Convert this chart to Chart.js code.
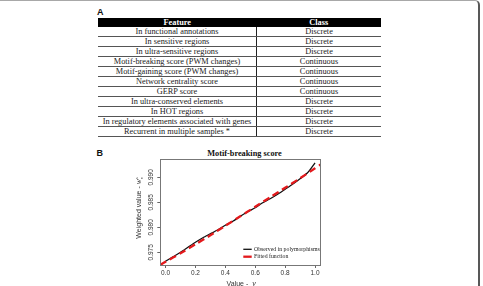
<!DOCTYPE html>
<html>
<head>
<meta charset="utf-8">
<script src="https://cdn.jsdelivr.net/npm/chart.js@4.4.1/dist/chart.umd.min.js"></script>
<style>
  html, body { margin: 0; padding: 0; background: #fff; overflow: hidden; }
  body { width: 483px; height: 286px; position: relative; font-family: "Liberation Serif", "Times New Roman", serif; }
  .frame { position: absolute; left: -20px; top: 0; width: 500px; height: 320px; box-sizing: border-box;
           border-top: 1px solid #a8a8a8; border-right: 2px solid #585858; border-top-right-radius: 5px; }
  .panel { position: absolute; font: bold 9px "Liberation Sans", Arial, sans-serif; line-height: 9px; color: #111; }
  #features { position: absolute; left: 98px; top: 18px; width: 283px; border-collapse: collapse; table-layout: fixed;
              font-size: 8.3px; color: #222; }
  #features th { background: #000; color: #fff; height: 9px; line-height: 9px; padding: 0; font-weight: bold; }
  #features td { height: 9px; line-height: 9px; padding: 0; text-align: center; border-bottom: 1px solid #555; white-space: nowrap; }
  #features td:first-child { border-right: 1px solid #222; }
  #title { position: absolute; left: 194.5px; top: 148.5px; width: 100px; text-align: center; white-space: nowrap;
           font: bold 8.3px "Liberation Serif", serif; line-height: 10px; color: #111; }
  #chart { position: absolute; left: 0; top: 140px; }
</style>
</head>
<body>
<div class="frame"></div>
<div class="panel" style="left:97px;top:8px">A</div>
<table id="features">
  <colgroup><col style="width:158.5px"><col style="width:124.5px"></colgroup>
  <thead><tr><th>Feature</th><th>Class</th></tr></thead>
  <tbody id="rows"></tbody>
</table>
<div class="panel" style="left:96.5px;top:148.5px">B</div>
<div id="title">Motif-breaking score</div>
<canvas id="chart" width="483" height="146"></canvas>
<script>
// Table A
const features = [
  'In functional annotations',
  'In sensitive regions',
  'In ultra-sensitive regions',
  'Motif-breaking score (PWM changes)',
  'Motif-gaining score (PWM changes)',
  'Network centrality score',
  'GERP score',
  'In ultra-conserved elements',
  'In HOT regions',
  'In regulatory elements associated with genes',
  'Recurrent in multiple samples *'
];
const featureClasses = [
  'Discrete', 'Discrete', 'Discrete', 'Continuous', 'Continuous', 'Continuous',
  'Continuous', 'Discrete', 'Discrete', 'Discrete', 'Discrete'
];

// Chart B
const vObserved = [0, 0.05, 0.1, 0.15, 0.2, 0.25, 0.3, 0.35, 0.4, 0.45, 0.5,
                   0.55, 0.6, 0.65, 0.7, 0.75, 0.8, 0.85, 0.9, 0.95, 1.0];
const wObserved = [0.9732, 0.9741, 0.9750, 0.9760, 0.9770, 0.9779, 0.9787, 0.9795, 0.9804, 0.9812, 0.9822,
                   0.9831, 0.9839, 0.9849, 0.9857, 0.9866, 0.9876, 0.9886, 0.9897, 0.9909, 0.9929];
const vFitted = [-0.035, 0, 0.1, 0.2, 0.3, 0.4, 0.5, 0.6, 0.7, 0.8, 0.9, 1.0, 1.04];
const wFitted = [0.97248, 0.9731, 0.9748, 0.9766, 0.9784, 0.9803, 0.9822, 0.9841, 0.9860, 0.9879, 0.9898, 0.9918, 0.9926];
const xTicks = [0, 0.2, 0.4, 0.6, 0.8, 1.0];
const yTicks = [0.975, 0.980, 0.985, 0.990];

const rows = document.getElementById('rows');
features.forEach((f, i) => {
  const tr = document.createElement('tr');
  tr.innerHTML = `<td>${f}</td><td>${featureClasses[i]}</td>`;
  rows.appendChild(tr);
});

const sans = '"Liberation Sans", Arial, sans-serif';
const serif = '"Liberation Serif", "Times New Roman", serif';
const ink = '#333';

// box, rotated y labels, axis titles and legend
const decorations = {
  id: 'decorations',
  afterDraw(chart) {
    const { ctx, chartArea: a } = chart;
    const ys = chart.scales.y;
    ctx.save();
    ctx.strokeStyle = '#777';
    ctx.lineWidth = 1;
    ctx.strokeRect(Math.round(a.left) + 0.5, Math.round(a.top) + 0.5,
                   Math.round(a.right - a.left) - 1, Math.round(a.bottom - a.top));

    // y tick labels, parallel to the axis
    ctx.fillStyle = ink;
    ctx.font = `6.5px ${sans}`;
    ctx.textAlign = 'center';
    ctx.textBaseline = 'middle';
    ys.ticks.forEach(t => {
      ctx.save();
      ctx.translate(a.left - 8.8, ys.getPixelForValue(t.value));
      ctx.rotate(-Math.PI / 2);
      ctx.fillText(t.value.toFixed(3), 0, 0);
      ctx.restore();
    });

    // y title: Weighted value - w_v^s
    ctx.save();
    ctx.translate(a.left - 21.5, 67.5);
    ctx.rotate(-Math.PI / 2);
    ctx.textAlign = 'left';
    ctx.textBaseline = 'alphabetic';
    const main = 'Weighted value - ';
    ctx.font = `7px ${sans}`;
    const wMain = ctx.measureText(main).width;
    ctx.font = `italic 7.5px ${serif}`;
    const wW = ctx.measureText('w').width;
    const total = wMain + wW + 3;
    let x0 = -total / 2;
    ctx.font = `7px ${sans}`;
    ctx.fillText(main, x0, 2.5);
    ctx.font = `italic 7.5px ${serif}`;
    ctx.fillText('w', x0 + wMain, 2.5);
    ctx.font = `italic 4.5px ${serif}`;
    ctx.fillText('v', x0 + wMain + wW + 0.3, 4.3);
    ctx.fillText('s', x0 + wMain + wW + 0.3, -0.8);
    ctx.restore();

    // x title: Value - v
    ctx.textAlign = 'left';
    ctx.textBaseline = 'alphabetic';
    ctx.font = `7px ${sans}`;
    const xMain = 'Value -  ';
    const wx = ctx.measureText(xMain).width;
    ctx.font = `italic 8px ${serif}`;
    const wNu = ctx.measureText('\u03bd').width;
    const xStart = (a.left + a.right) / 2 + 0.5 - (wx + wNu) / 2;
    ctx.font = `7px ${sans}`;
    ctx.fillText(xMain, xStart, 145.5);
    ctx.font = `italic 8px ${serif}`;
    ctx.fillText('\u03bd', xStart + wx, 145.5);

    // legend, bottom right inside the box
    const items = [chart.data.datasets[0], chart.data.datasets[1]];
    ctx.font = `5.8px ${serif}`;
    ctx.textBaseline = 'middle';
    items.forEach((d, i) => {
      const y = a.bottom - 15.7 + i * 7.4;
      ctx.strokeStyle = d.borderColor;
      ctx.lineWidth = d.borderWidth;
      ctx.setLineDash([]);
      ctx.beginPath();
      ctx.moveTo(a.right - 77.7, y);
      ctx.lineTo(a.right - 69.3, y);
      ctx.stroke();
      ctx.fillStyle = '#222';
      ctx.fillText(d.label, a.right - 67, y);
    });
    ctx.restore();
  }
};

new Chart(document.getElementById('chart'), {
  type: 'line',
  data: {
    datasets: [
      {
        label: 'Observed in polymorphisms',
        data: vObserved.map((v, i) => ({ x: v, y: wObserved[i] })),
        borderColor: '#111',
        borderWidth: 1.3,
        pointRadius: 0,
        tension: 0.2,
        order: 1
      },
      {
        label: 'Fitted function',
        data: vFitted.map((v, i) => ({ x: v, y: wFitted[i] })),
        borderColor: '#e3191c',
        borderWidth: 2.3,
        borderDash: [7, 4],
        pointRadius: 0,
        tension: 0.2,
        order: 0
      }
    ]
  },
  options: {
    responsive: false,
    animation: false,
    devicePixelRatio: 1,
    layout: { padding: { left: 100, top: 19.3, right: 162, bottom: 0 } },
    plugins: { legend: { display: false }, tooltip: { enabled: false }, title: { display: false } },
    scales: {
      x: {
        type: 'linear',
        min: -0.035,
        max: 1.04,
        afterBuildTicks: s => { s.ticks = xTicks.map(v => ({ value: v })); },
        afterFit: s => { s.height = 21; },
        border: { display: false },
        grid: { drawOnChartArea: false, drawTicks: true, tickLength: 3, color: '#666', lineWidth: 1 },
        ticks: {
          autoSkip: false, maxRotation: 0, padding: 1.5, color: ink,
          font: { family: sans, size: 6.5 },
          callback: v => v.toFixed(1)
        }
      },
      y: {
        type: 'linear',
        min: 0.97246,
        max: 0.9936,
        afterBuildTicks: s => { s.ticks = yTicks.map(v => ({ value: v })); },
        afterFit: s => { s.width = 60.3; },
        border: { display: false },
        grid: { drawOnChartArea: false, drawTicks: true, tickLength: 3, color: '#666', lineWidth: 1 },
        ticks: { display: false }
      }
    }
  },
  plugins: [decorations]
});
</script>
</body>
</html>
